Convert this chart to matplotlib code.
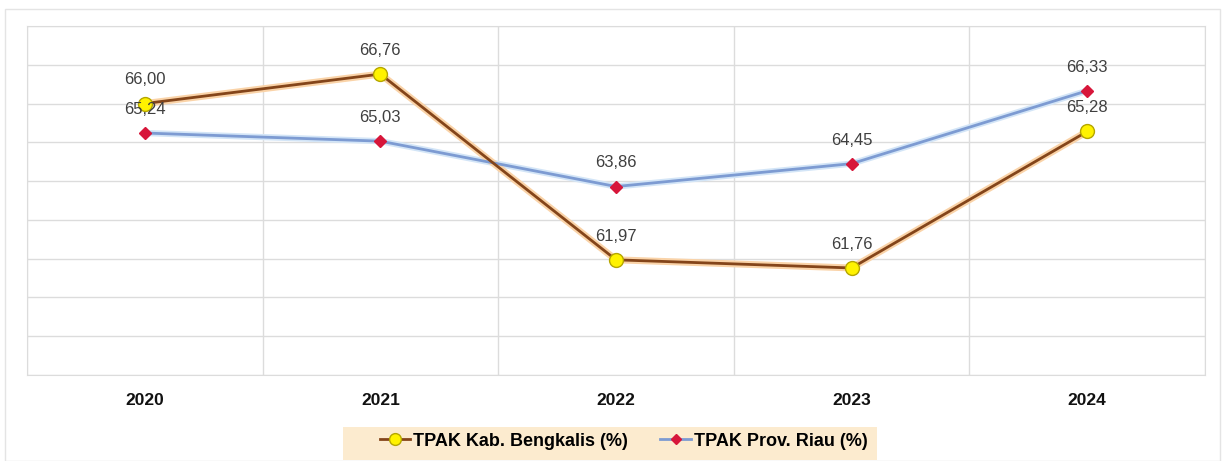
import matplotlib.pyplot as plt
from matplotlib.patches import Rectangle

years = ['2020', '2021', '2022', '2023', '2024']
bengkalis = [66.00, 66.76, 61.97, 61.76, 65.28]
riau = [65.24, 65.03, 63.86, 64.45, 66.33]
label_bengkalis = 'TPAK Kab. Bengkalis (%)'
label_riau = 'TPAK Prov. Riau (%)'

plt.rcParams['font.family'] = ['Liberation Sans', 'DejaVu Sans']

fig = plt.figure(figsize=(12.25, 4.61), dpi=100)
ax = fig.add_axes([0.022, 0.1866, 0.9617, 0.757])

x = range(len(years))

# soft glow under lines like the original
ax.plot(x, riau, color='#D3E5F7', lw=4.5, solid_capstyle='round', zorder=2)
ax.plot(x, bengkalis, color='#FAD3A8', lw=5, solid_capstyle='round', zorder=2)

ax.plot(x, riau, color='#7D9BD2', lw=2, marker='D', markersize=6.5,
        markerfacecolor='#D7163A', markeredgecolor='#D7163A', label=label_riau, zorder=4)
ax.plot(x, bengkalis, color='#84451A', lw=2, marker='o', markersize=10,
        markerfacecolor='#FFF200', markeredgecolor='#B5A600', markeredgewidth=1,
        label=label_bengkalis, zorder=5)

for i, v in enumerate(bengkalis):
    ax.annotate(f'{v:.2f}'.replace('.', ','), (i, v), xytext=(0, 17),
                textcoords='offset points', ha='center', va='center',
                fontsize=12, color='#3F3F3F', zorder=6)
for i, v in enumerate(riau):
    ax.annotate(f'{v:.2f}'.replace('.', ','), (i, v), xytext=(0, 17),
                textcoords='offset points', ha='center', va='center',
                fontsize=12, color='#3F3F3F', zorder=6)

ax.set_xlim(-0.5, 4.5)
ax.set_ylim(59, 68)
ax.set_yticks(range(59, 69))
ax.set_yticklabels([])
ax.set_xticks(list(x))
ax.set_xticklabels(years, fontsize=12.5, fontweight='bold', color='#111111')
ax.set_xticks([i + 0.5 for i in range(-1, len(years))], minor=True)
ax.tick_params(axis='both', which='both', length=0)
ax.tick_params(axis='x', pad=13)

ax.grid(axis='y', which='major', color='#DCDCDC', lw=1)
ax.grid(axis='x', which='minor', color='#DCDCDC', lw=1)
ax.set_axisbelow(True)
for s in ax.spines.values():
    s.set_color('#DCDCDC')

# figure frame
fig.patches.append(Rectangle((0.004, 0.0), 0.992, 0.98, transform=fig.transFigure,
                             fill=False, edgecolor='#E4E4E4', lw=1))
# legend background band
fig.patches.append(Rectangle((0.280, 0.002), 0.436, 0.072, transform=fig.transFigure,
                             facecolor='#FCEBCF', edgecolor='none', zorder=0))

handles, labels = ax.get_legend_handles_labels()
leg = fig.legend(handles[::-1], labels[::-1], loc='center', bbox_to_anchor=(0.509, 0.043),
                 ncol=2, frameon=False, prop={'weight': 'bold', 'size': 13},
                 handlelength=1.7, handletextpad=0.15, columnspacing=1.8,
                 borderpad=0.3)
for h in leg.legend_handles:
    h.set_markersize(h.get_markersize() * 0.85)

fig.savefig('out.png', dpi=100)
